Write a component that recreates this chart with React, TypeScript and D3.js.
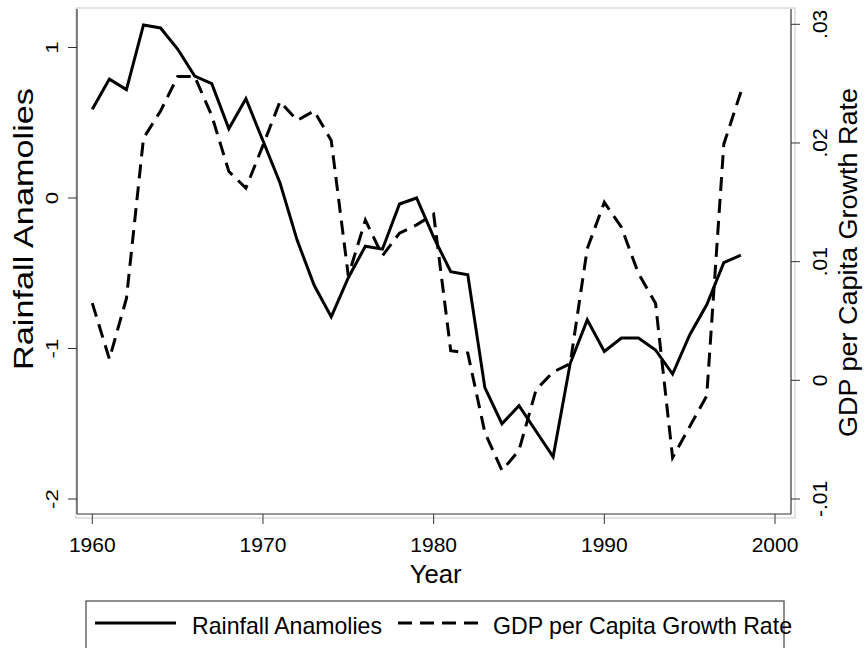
import React from "react";
import * as d3 from "d3";

const years: number[] = d3.range(1960, 1999);
const rainfall: number[] = [
  0.59, 0.79, 0.72, 1.15, 1.13, 0.99, 0.81, 0.76, 0.46, 0.66,
  0.38, 0.1, -0.28, -0.58, -0.79, -0.53, -0.32, -0.34, -0.04, 0.0,
  -0.26, -0.49, -0.51, -1.26, -1.5, -1.38, -1.55, -1.72, -1.1, -0.81,
  -1.02, -0.93, -0.93, -1.01, -1.17, -0.91, -0.71, -0.43, -0.38,
];
const gdpGrowth: number[] = [
  0.0065, 0.0018, 0.0069, 0.0204, 0.0227, 0.0256, 0.0256, 0.0223, 0.0176, 0.0162,
  0.0198, 0.0235, 0.0219, 0.0227, 0.0202, 0.0088, 0.0135, 0.0105, 0.0124, 0.0131,
  0.014, 0.0025, 0.0023, -0.0044, -0.0076, -0.0059, -0.0008, 0.0007, 0.0014, 0.0111,
  0.015, 0.0129, 0.009, 0.0065, -0.0065, -0.0039, -0.0013, 0.0199, 0.0243,
];
const xTicks: number[] = [1960, 1970, 1980, 1990, 2000];
const leftTicks: number[] = [-2, -1, 0, 1];
const rightTicks: number[] = [-0.01, 0, 0.01, 0.02, 0.03];
const rightTickLabels: string[] = ["-.01", "0", ".01", ".02", ".03"];
const xTitle = "Year";
const leftTitle = "Rainfall Anamolies";
const rightTitle = "GDP per Capita Growth Rate";
const legendLabels: string[] = ["Rainfall Anamolies", "GDP per Capita Growth Rate"];

const FONT = "'Liberation Sans', Arial, Helvetica, sans-serif";

export default function App() {
  const W = 867;
  const H = 648;
  const x = d3.scaleLinear().domain([1960, 2000]).range([92.3, 775]);
  const yL = d3.scaleLinear().domain([-2, 1]).range([499, 47.5]);
  const yR = d3.scaleLinear().domain([-0.01, 0.03]).range([499, 24.3]);

  const plotL = 77, plotR = 791, plotT = 9, plotB = 514;

  const rainLine = d3
    .line<number>()
    .x((_, i) => x(years[i]))
    .y((d) => yL(d));
  const gdpLine = d3
    .line<number>()
    .x((_, i) => x(years[i]))
    .y((d) => yR(d));

  const axisColor = "#333";
  const dash = "14 8";

  return (
    <svg
      width={W}
      height={H}
      style={{ position: "absolute", left: 0, top: 0, background: "#fff" }}
      fontFamily={FONT}
    >
      <rect x={0} y={0} width={W} height={H} fill="#fff" />
      {/* plot region outline */}
      <rect x={76} y={8} width={795 - 76} height={518 - 8} fill="none" stroke="#c8c8c8" strokeWidth={1} />
      {/* axes */}
      <line x1={plotL} x2={plotL} y1={plotT} y2={plotB} stroke={axisColor} strokeWidth={1.2} />
      <line x1={plotL} x2={plotR} y1={plotB} y2={plotB} stroke={axisColor} strokeWidth={1.2} />
      <line x1={plotR} x2={plotR} y1={plotT} y2={plotB} stroke={axisColor} strokeWidth={1.2} />

      {/* x ticks */}
      {xTicks.map((t) => (
        <g key={"x" + t}>
          <line x1={x(t)} x2={x(t)} y1={plotB} y2={plotB + 10} stroke={axisColor} strokeWidth={1} />
          <text x={x(t)} y={551.5} textAnchor="middle" fontSize={21} fill="#000">
            {t}
          </text>
        </g>
      ))}
      <text x={435.7} y={583} textAnchor="middle" fontSize={25} fill="#000" textLength={52} lengthAdjust="spacingAndGlyphs">
        {xTitle}
      </text>

      {/* left ticks */}
      {leftTicks.map((t) => (
        <g key={"l" + t}>
          <line x1={plotL - 9} x2={plotL} y1={yL(t)} y2={yL(t)} stroke={axisColor} strokeWidth={1} />
          <text
            transform={`translate(58,${yL(t)}) rotate(-90) scale(1.35,1)`}
            textAnchor="middle"
            fontSize={16.5}
            fill="#000"
          >
            {t}
          </text>
        </g>
      ))}
      <text
        transform={`translate(33,229) rotate(-90)`}
        textAnchor="middle"
        fontSize={28}
        fill="#000"
        textLength={282}
        lengthAdjust="spacingAndGlyphs"
      >
        {leftTitle}
      </text>

      {/* right ticks */}
      {rightTicks.map((t, i) => (
        <g key={"r" + i}>
          <line x1={plotR} x2={plotR + 9} y1={yR(t)} y2={yR(t)} stroke={axisColor} strokeWidth={1} />
          <text
            transform={`translate(827,${yR(t)}) rotate(-90)`}
            textAnchor="middle"
            fontSize={21}
            fill="#000"
          >
            {rightTickLabels[i]}
          </text>
        </g>
      ))}
      <text
        transform={`translate(856.5,262.5) rotate(-90)`}
        textAnchor="middle"
        fontSize={26}
        fill="#000"
        textLength={349}
        lengthAdjust="spacingAndGlyphs"
      >
        {rightTitle}
      </text>

      {/* data */}
      <path d={gdpLine(gdpGrowth) || ""} fill="none" stroke="#000" strokeWidth={3} strokeDasharray={dash} strokeLinejoin="miter" />
      <path d={rainLine(rainfall) || ""} fill="none" stroke="#000" strokeWidth={3} strokeLinejoin="miter" />

      {/* legend */}
      <rect x={86} y={601} width={784 - 86} height={80} fill="#fff" stroke="#444" strokeWidth={1.2} />
      <line x1={95} x2={176} y1={623} y2={623} stroke="#000" strokeWidth={3} />
      <text x={192} y={634} fontSize={24} fill="#000" textLength={190} lengthAdjust="spacingAndGlyphs">
        {legendLabels[0]}
      </text>
      <line x1={398} x2={478} y1={623} y2={623} stroke="#000" strokeWidth={3} strokeDasharray={dash} />
      <text x={493} y={634} fontSize={24} fill="#000" textLength={299} lengthAdjust="spacingAndGlyphs">
        {legendLabels[1]}
      </text>
    </svg>
  );
}
